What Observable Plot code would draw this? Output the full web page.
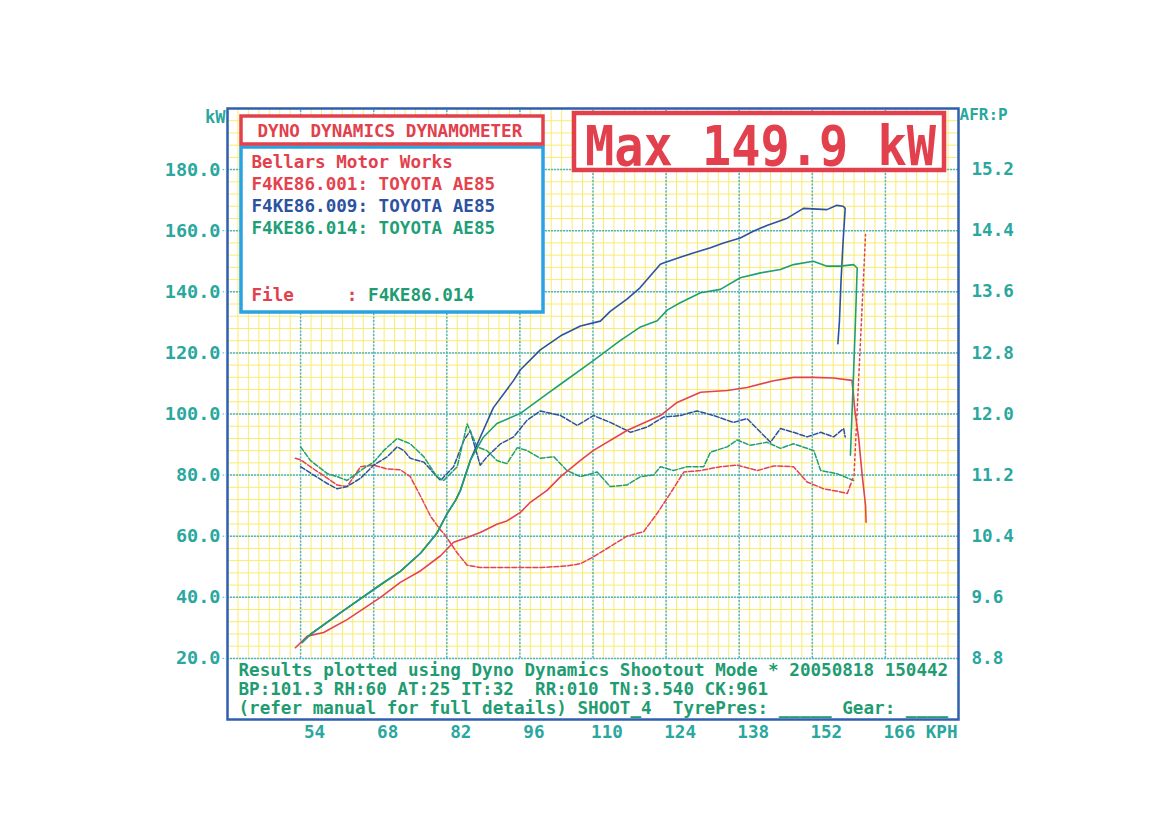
<!DOCTYPE html>
<html><head><meta charset="utf-8">
<script src="https://cdn.jsdelivr.net/npm/d3@7"></script>
<script src="https://cdn.jsdelivr.net/npm/@observablehq/plot@0.6"></script>
<style>body{margin:0;background:#fff;} #chart{width:1173px;height:832px;}</style>
</head><body><div id="chart"></div>
<script>
// ---- categories / labels ----
const runs = ["F4KE86.001", "F4KE86.009", "F4KE86.014"];
const runColors = ["#e4434e", "#2c52a0", "#1f9f78"];
const speedTicks = [54, 68, 82, 96, 110, 124, 138, 152, 166];
const kwTicks = [20, 40, 60, 80, 100, 120, 140, 160, 180];
const afrTicks = [8.8, 9.6, 10.4, 11.2, 12.0, 12.8, 13.6, 14.4, 15.2];
const titleText = "DYNO DYNAMICS DYNAMOMETER";
const maxLabel = "Max 149.9 kW";
const shopName = "Bellars Motor Works";
const legendLabels = ["F4KE86.001: TOYOTA AE85", "F4KE86.009: TOYOTA AE85", "F4KE86.014: TOYOTA AE85"];
const fileLabel = "F4KE86.014";
const footerLines = [
  "Results plotted using Dyno Dynamics Shootout Mode * 20050818 150442",
  "BP:101.3 RH:60 AT:25 IT:32  RR:010 TN:3.540 CK:961",
  "(refer manual for full details) SHOOT_4  TyrePres: _____ Gear: ____"
];

// ---- power (kW) vs speed (km/h) ----
const speed001 = [53.0,55.3,58.4,62.9,69.3,73.1,77.0,80.8,83.3,85.9,88.4,91.6,93.5,96.1,98.0,101.2,103.8,107.6,110.1,116.5,122.9,126.1,130.6,135.7,139.5,144.6,148.4,152.3,156.0,159.6,160.2,160.9,161.5,162.2,162.3];
const power001 = [23.5,27.3,28.5,32.7,40.0,44.9,48.7,53.6,58.0,59.6,61.2,63.9,65.0,67.8,71.1,75.0,79.5,84.8,88.1,94.6,99.5,103.8,107.1,107.7,108.7,110.9,112.0,112.0,111.8,111.0,100.5,91.8,80.9,70.0,64.6];

const speed009 = [54.3,55.9,61.6,69.3,73.1,77.0,80.1,82.1,83.7,84.6,86.5,88.4,90.9,94.8,96.1,99.9,103.8,107.6,111.4,113.3,116.5,119.0,122.9,123.5,126.7,129.2,132.5,135.0,138.2,140.7,143.3,147.2,150.3,154.8,156.7,157.9,158.3,157.9,157.5,157.2,156.9];
const power009 = [25.2,27.9,34.9,44.1,48.5,54.5,61.0,67.5,71.8,75.0,84.8,92.4,102.0,111.0,114.5,121.0,125.6,128.8,130.4,133.6,137.6,141.3,149.0,149.4,151.3,152.7,154.4,156.0,157.6,159.8,161.7,164.1,167.3,166.9,168.3,168.0,167.3,156.6,143.5,130.5,123.0];

const speed014 = [54.3,55.9,61.6,69.3,73.1,77.0,80.1,82.1,83.7,84.6,86.5,89.0,91.6,96.1,101.2,104.3,110.0,115.2,119.1,122.3,124.2,126.7,130.6,134.4,138.2,142.1,145.9,148.4,152.2,154.8,157.4,159.9,160.6,160.2,159.7,159.3];
const power014 = [25.2,27.9,34.9,44.1,48.5,54.5,61.0,67.5,71.8,75.0,84.8,92.4,96.9,100.2,106.6,110.4,117.4,124.0,128.5,130.5,134.0,136.4,139.7,140.8,144.6,146.2,147.3,148.9,150.0,148.4,148.4,148.9,147.8,127.2,104.4,86.5];

// ---- air/fuel ratio vs speed ----
const afrSpeed001 = [53,54,56.5,59.1,61,62.9,64.2,65.5,68,70.6,73.1,75,77,78.9,80.8,81.4,84,85.9,88.4,95,100,105,107.6,110.1,113.9,116.5,119.7,122.3,124.8,127.4,130.6,134.4,137.6,141.5,144.6,148.4,151,154.2,157.4,158.7,159.3];
const afr001 = [11.42,11.40,11.28,11.16,11.07,11.05,11.18,11.31,11.33,11.28,11.27,11.18,10.92,10.66,10.48,10.44,10.18,10.02,9.99,9.99,9.99,10.01,10.04,10.13,10.29,10.40,10.46,10.70,10.96,11.24,11.26,11.31,11.33,11.26,11.32,11.31,11.11,11.02,10.98,10.96,11.07];
const afrTailSpeed001 = [159.3,160.0,162.2];
const afrTail001 = [11.07,11.20,14.35];

const afrSpeed009 = [54,56.5,59.1,61,62.9,65.5,68,70.6,72.5,73.8,75,77.6,80.1,80.8,83.3,85.3,86.5,88.4,89.7,92.3,94.8,97.4,99.9,103.8,107,110.1,113.3,117.2,120.4,123.5,126.7,129.9,133.1,136.9,139.5,142.1,144,145.9,148.4,151,153.6,156.1,158,158.3];
const afr009 = [11.31,11.20,11.09,11.02,11.05,11.16,11.33,11.44,11.57,11.52,11.42,11.37,11.18,11.13,11.31,11.66,11.78,11.33,11.44,11.61,11.70,11.92,12.04,11.98,11.85,11.98,11.89,11.76,11.83,11.96,11.98,12.04,11.98,11.89,11.94,11.76,11.63,11.81,11.76,11.70,11.76,11.70,11.81,11.70];

const afrSpeed014 = [54,55.9,59.1,61,62.9,65.5,68,69.9,72.5,75,77.6,80.1,81.4,84,85.9,87.8,89.7,91.6,93.5,95.5,97.4,99.9,102.5,105,107.6,110.8,113.3,116.5,119.1,121.6,122.9,125.4,128,131.2,132.5,135.7,137.6,140.1,143.3,145.9,148.4,152.3,153.6,156.7,159.9];
const afr014 = [11.57,11.39,11.22,11.18,11.13,11.26,11.37,11.52,11.68,11.61,11.44,11.18,11.13,11.31,11.87,11.57,11.52,11.39,11.35,11.56,11.52,11.42,11.44,11.26,11.18,11.24,11.05,11.07,11.18,11.20,11.31,11.26,11.31,11.31,11.50,11.57,11.66,11.59,11.63,11.55,11.61,11.52,11.26,11.22,11.13];

// ---- tables built from arrays ----
const toRows = (run, xs, ys, key) => xs.map((v, i) => ({run, v, [key]: ys[i]}));
const powerRows = [
  ...toRows(runs[0], speed001, power001, "kw"),
  ...toRows(runs[1], speed009, power009, "kw"),
  ...toRows(runs[2], speed014, power014, "kw")
];
const afrRows = [
  ...toRows(runs[0], afrSpeed001, afr001, "afr"),
  ...toRows(runs[1], afrSpeed009, afr009, "afr"),
  ...toRows(runs[2], afrSpeed014, afr014, "afr")
];
const afrTailRows = toRows(runs[0], afrTailSpeed001, afrTail001, "afr");

// AFR shares the kW axis: 8.0 AFR at 0 kW, 0.04 AFR per kW
const afrToKw = a => (a - 8) * 25;
const kwToAfr = k => 8 + k / 25;

const mono = "'DejaVu Sans Mono', 'Liberation Mono', monospace";
const RED = "#e2404c", TEAL = "#2aa79e", GREEN = "#1f9c72", BLUEBOX = "#2aa3e2";
const charW = 17.6 * 0.6021;

// annotation boxes (drawn as a custom mark)
function boxes(index, scales, values, dims) {
  const L = dims.marginLeft, T = dims.marginTop;
  const g = d3.create("svg:g");
  g.append("rect").attr("x", L + 14).attr("y", T + 39).attr("width", 302).attr("height", 165)
    .attr("fill", "#fff").attr("stroke", BLUEBOX).attr("stroke-width", 3.5);
  g.append("rect").attr("x", L + 14).attr("y", T + 8).attr("width", 302).attr("height", 28)
    .attr("fill", "#fff").attr("stroke", RED).attr("stroke-width", 3.5);
  g.append("rect").attr("x", L + 347).attr("y", T + 5).attr("width", 370).attr("height", 57)
    .attr("fill", "#fff").attr("stroke", RED).attr("stroke-width", 4.5);
  g.append("text").text(maxLabel)
    .attr("transform", `translate(${L + 358},${T + 57}) scale(1,1.13)`)
    .attr("text-anchor", "start")
    .attr("font-family", mono).attr("font-weight", "bold").attr("font-size", 48.6)
    .attr("fill", RED);
  return g.node();
}

const legendMarks = [];
legendMarks.push(Plot.text([titleText], {frameAnchor: "top-left", dx: 30, dy: 16, lineAnchor: "top", textAnchor: "start", fill: RED, fontSize: 17.6, fontWeight: "bold", fontFamily: mono}));
legendMarks.push(Plot.text([shopName], {frameAnchor: "top-left", dx: 24, dy: 47, lineAnchor: "top", textAnchor: "start", fill: RED, fontSize: 17.6, fontWeight: "bold", fontFamily: mono}));
legendLabels.forEach((t, i) => legendMarks.push(
  Plot.text([t], {frameAnchor: "top-left", dx: 24, dy: 69 + i * 22, lineAnchor: "top", textAnchor: "start", fill: runColors[i], fontSize: 17.6, fontWeight: "bold", fontFamily: mono})));
legendMarks.push(Plot.text(["File"], {frameAnchor: "top-left", dx: 24, dy: 180, lineAnchor: "top", textAnchor: "start", fill: RED, fontSize: 17.6, fontWeight: "bold", fontFamily: mono}));
legendMarks.push(Plot.text([":"], {frameAnchor: "top-left", dx: 24 + 9 * charW, dy: 180, lineAnchor: "top", textAnchor: "start", fill: RED, fontSize: 17.6, fontWeight: "bold", fontFamily: mono}));
legendMarks.push(Plot.text([fileLabel], {frameAnchor: "top-left", dx: 24 + 11 * charW, dy: 180, lineAnchor: "top", textAnchor: "start", fill: GREEN, fontSize: 17.6, fontWeight: "bold", fontFamily: mono}));

const footerMarks = footerLines.map((t, i) =>
  Plot.text([t], {frameAnchor: "bottom-left", dx: 11, dy: -56 + i * 19, lineAnchor: "top", textAnchor: "start", fill: GREEN, fontSize: 17.6, fontWeight: "bold", fontFamily: mono}));

const chart = Plot.plot({
  width: 1173, height: 832,
  marginLeft: 227, marginRight: 215, marginTop: 108, marginBottom: 113,
  style: {background: "transparent", fontFamily: mono},
  x: {domain: [40, 180]},
  y: {domain: [0, 200]},
  color: {domain: runs, range: runColors},
  marks: [
    // minor yellow grid
    Plot.ruleX(d3.range(40, 181, 2), {y1: 20, y2: 200, stroke: "#f9ec70", strokeWidth: 1}),
    Plot.ruleY(d3.range(20, 201, 4), {stroke: "#f9ec70", strokeWidth: 1}),
    // major blue grid
    Plot.ruleX(speedTicks, {y1: 20, y2: 200, stroke: "#4cb4de", strokeWidth: 1.5, strokeDasharray: "2,1.5"}),
    Plot.ruleY(kwTicks, {stroke: "#4cb4de", strokeWidth: 1.5, strokeDasharray: "2,1"}),
    boxes,
    ...legendMarks,
    ...footerMarks,
    // curves
    Plot.line(afrRows, {x: "v", y: d => afrToKw(d.afr), z: "run", stroke: "run", strokeWidth: 1.5, strokeDasharray: "5,2", curve: "linear"}),
    Plot.line(afrTailRows, {x: "v", y: d => afrToKw(d.afr), stroke: RED, strokeWidth: 1.5, strokeDasharray: "2,3"}),
    Plot.line(powerRows, {x: "v", y: "kw", z: "run", stroke: "run", strokeWidth: 1.6}),
    Plot.frame({stroke: "#2f5fae", strokeWidth: 2.5}),
    // axes
    Plot.axisY(kwTicks, {anchor: "left", tickFormat: d => d.toFixed(1), tickSize: 5, tickPadding: 2, fill: TEAL, stroke: "#4cb4de", strokeDasharray: "1.5,1.5", fontSize: 18.5, fontWeight: "bold", fontFamily: mono, label: null}),
    Plot.axisY(afrTicks.map(afrToKw), {anchor: "right", tickFormat: d => kwToAfr(d).toFixed(1), tickSize: 0, tickPadding: 13, fill: TEAL, fontSize: 17.6, fontWeight: "bold", fontFamily: mono, label: null}),
    Plot.axisX(speedTicks, {anchor: "bottom", tickSize: 0, tickPadding: 6, dx: 14, fill: TEAL, fontSize: 17.6, fontWeight: "bold", fontFamily: mono, label: null}),
    Plot.text(["kW"], {frameAnchor: "top-left", dx: -2, dy: 2, lineAnchor: "top", textAnchor: "end", fill: TEAL, fontSize: 17, fontWeight: "bold", fontFamily: mono}),
    Plot.text(["AFR:P"], {frameAnchor: "top-right", dx: 1, dy: 0, lineAnchor: "top", textAnchor: "start", fill: TEAL, fontSize: 16, fontWeight: "bold", fontFamily: mono}),
    Plot.text(["KPH"], {frameAnchor: "bottom-right", dx: -1, dy: 6, lineAnchor: "top", textAnchor: "end", fill: TEAL, fontSize: 17.6, fontWeight: "bold", fontFamily: mono})
  ]
});
document.getElementById("chart").appendChild(chart);
</script>
</body></html>
